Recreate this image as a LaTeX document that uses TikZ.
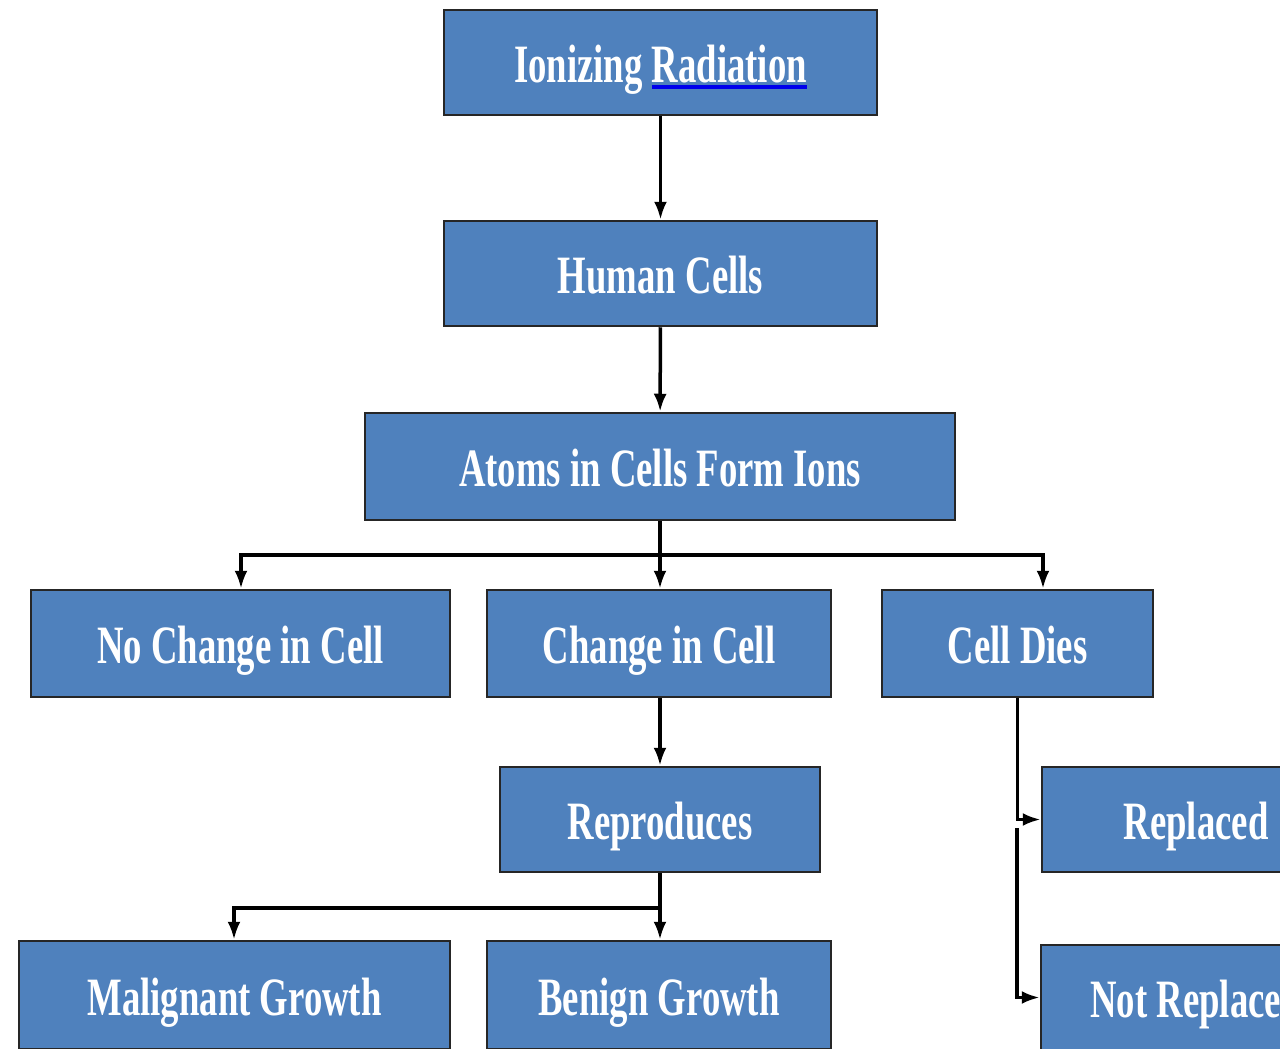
\documentclass[tikz,border=0pt]{standalone}
\usepackage{fontspec}
\usetikzlibrary{arrows.meta}
\newfontfamily\boxfont{Liberation Serif}[FakeStretch=0.68]
\definecolor{boxblue}{HTML}{4F81BD}
\definecolor{ulblue}{RGB}{0,0,235}
\newcommand\blueul[1]{\setbox0\hbox{#1}\rlap{\color{ulblue}\rule[-7pt]{\wd0}{4.5pt}}\box0}
\tikzset{
  box/.style={draw=black!85, line width=2.5pt, fill=boxblue, text=white, inner sep=0pt,
    minimum height=105pt, text height=40pt, text depth=0pt,
    font=\boxfont\bfseries\fontsize{54}{60}\selectfont},
  conn/.style={line width=3.5pt, -{Latex[length=18pt,width=13pt]}},
}
\begin{document}
\begin{tikzpicture}[x=1pt,y=-1pt]
\useasboundingbox (0,0) rectangle (1280,1049);
\clip (0,0) rectangle (1280,1049);
\node[box, minimum width=433pt] (ion) at (660.5,62.5) {Ionizing \blueul{Radiation}};
\node[box, minimum width=433pt] (hum) at (660.5,273.5) {Human Cells};
\node[box, minimum width=590pt, minimum height=107pt] (atoms) at (660,466.5) {Atoms in Cells Form Ions};
\node[box, minimum width=419pt, minimum height=107pt] (nochg) at (240.5,643.5) {No Change in Cell};
\node[box, minimum width=344pt, minimum height=107pt] (chg) at (659,643.5) {Change in Cell};
\node[box, minimum width=271pt, minimum height=107pt] (dies) at (1017.5,643.5) {Cell Dies};
\node[box, minimum width=320pt] (rep) at (660,819.5) {Reproduces};
\node[box, minimum width=308pt] (repl) at (1196,819.5) {Replaced};
\node[box, minimum width=431pt, minimum height=108pt] (mal) at (234.5,995) {Malignant Growth};
\node[box, minimum width=344pt, minimum height=108pt] (ben) at (659,995) {Benign Growth};
\node[box, minimum width=310pt, minimum height=105pt] (notrep) at (1196,997.5) {Not Replaced};
\coordinate (jL) at (241,555);
\coordinate (jR) at (1043,555);
\coordinate (jM) at (234,908);
\coordinate (d2) at (1017,828);
\draw[conn] (ion) -- (hum);
\draw[conn] (hum) -- (atoms);
\draw[conn] (atoms.south) -- (atoms.south |- chg.north);
\draw[conn] (atoms.south |- jL) -| (jL |- nochg.north);
\draw[conn] (atoms.south |- jR) -| (jR |- dies.north);
\draw[conn] (chg.south -| rep.south) -- (rep.north);
\draw[conn] (rep.south) -- (rep.south |- ben.north);
\draw[conn] (rep.south |- jM) -| (jM |- mal.north);
\draw[conn] (dies.south) |- (repl.west);
\draw[conn] (d2) |- (notrep.west);
\end{tikzpicture}
\end{document}
